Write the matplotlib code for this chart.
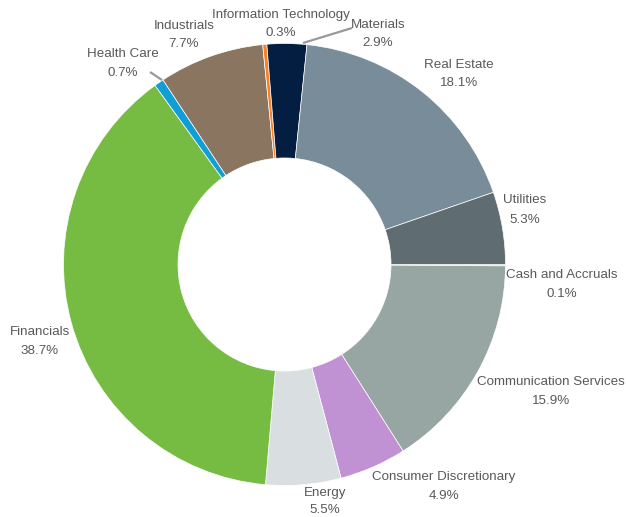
import matplotlib
matplotlib.use("Agg")
import matplotlib.pyplot as plt

# ---- data ----
categories = ["Cash and Accruals", "Communication Services", "Consumer Discretionary",
              "Energy", "Financials", "Health Care", "Industrials",
              "Information Technology", "Materials", "Real Estate", "Utilities"]
weights = [0.1, 15.9, 4.9, 5.5, 38.7, 0.7, 7.7, 0.3, 2.9, 18.1, 5.3]
pct_labels = ["0.1%", "15.9%", "4.9%", "5.5%", "38.7%", "0.7%", "7.7%",
              "0.3%", "2.9%", "18.1%", "5.3%"]

# ---- styles ----
colors = ["#cfd7d9", "#97a5a3", "#c092d4", "#d9dfe1", "#76bc43", "#0f9ed5",
          "#8a7560", "#f4822a", "#041e42", "#788d99", "#5f6c72"]

# label layout (pixel centres: x, first-line y, second-line y)
label_pos = [(562, 275, 294), (551, 382, 401), (444, 477, 496), (325, 493, 510),
             (40, 332, 351), (123, 54, 73), (184, 26, 44), (281, 15, 33),
             (378, 25, 43), (459, 65, 83), (525, 200, 220)]
connectors = {"Materials": ((303, 43), (352, 28)),
              "Health Care": ((162, 80), (150, 72))}

W, H = 626, 517
CX, CY, R = 284.5, 264.5, 221.0

plt.rcParams['font.family'] = ['Liberation Sans', 'DejaVu Sans']

fig = plt.figure(figsize=(W / 100, H / 100), dpi=100)
ax = fig.add_axes([(CX - R) / W, (H - CY - R) / H, 2 * R / W, 2 * R / H])
ax.pie(weights, colors=colors, startangle=0, counterclock=False, radius=1.0,
       wedgeprops=dict(width=0.518, edgecolor='white', linewidth=0.5))
ax.set_xlim(-1, 1)
ax.set_ylim(-1, 1)
ax.axis('off')


def px2d(px, py):
    return (px - CX) / R, (CY - py) / R


txt_color = "#595959"
for cat, pct, (lx, ly1, ly2) in zip(categories, pct_labels, label_pos):
    x1, y1 = px2d(lx, ly1)
    x2, y2 = px2d(lx, ly2)
    ax.text(x1, y1, cat, ha='center', va='center', fontsize=9.6,
            color=txt_color, clip_on=False)
    ax.text(x2, y2, pct, ha='center', va='center', fontsize=9.6,
            color=txt_color, clip_on=False)

for cat, (p0, p1) in connectors.items():
    a = px2d(*p0)
    b = px2d(*p1)
    ax.plot([a[0], b[0]], [a[1], b[1]], color="#999999", lw=1.6,
            solid_capstyle='butt', clip_on=False)

fig.savefig("out.png", dpi=100)
